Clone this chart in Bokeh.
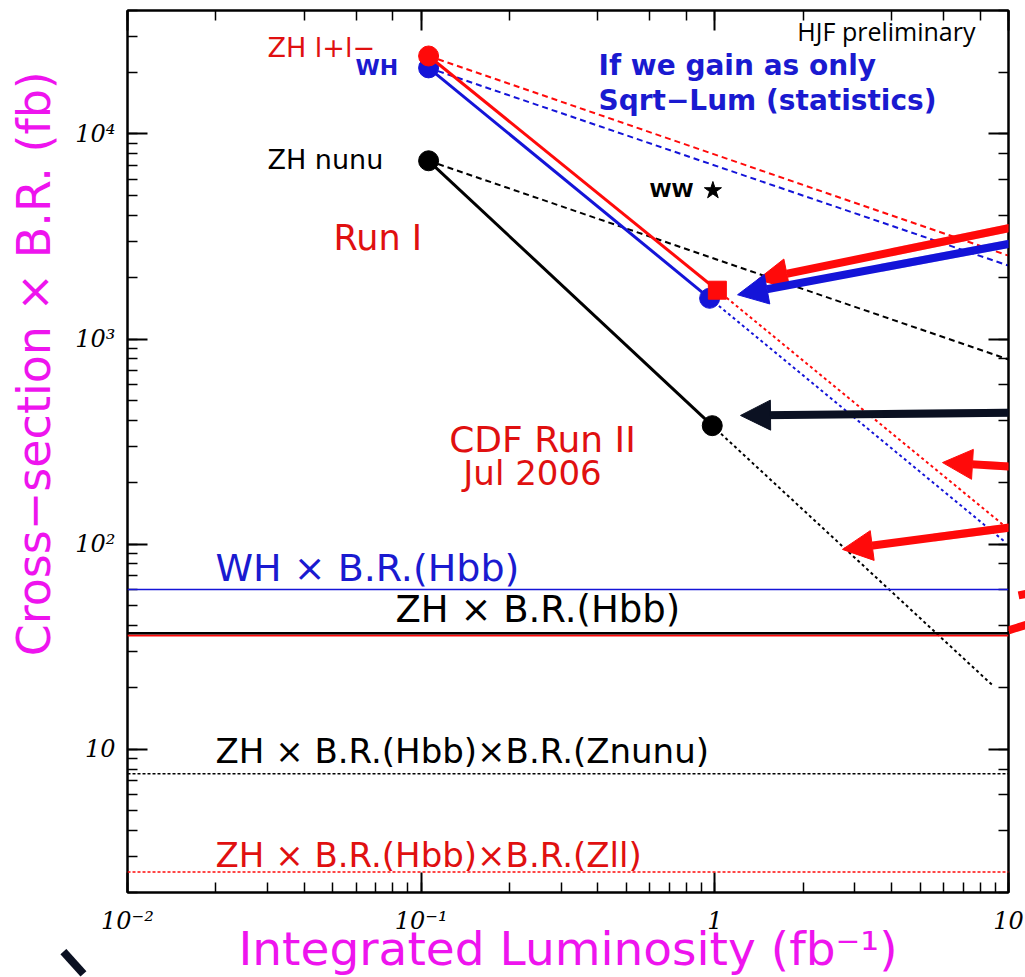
import math
from bokeh.plotting import figure
from bokeh.models import (LogAxis, LogTicker, Span, Label, Arrow, NormalHead, PolyAnnotation,
                          CustomJSTickFormatter, CustomLabelingPolicy, Range1d)
from bokeh.embed import file_html
from bokeh.resources import INLINE

# ---------------- data ----------------
x_limits = [0.01, 10]
y_limits = [2, 40000]

channels = ["ZH l+l-", "WH", "ZH nunu"]
runI_lumi = [0.106, 0.106, 0.106]
runI_xsec = [24000, 21000, 7400]
runII_lumi = [1.02, 0.96, 0.98]
runII_xsec = [1730, 1580, 378]
extrap_lumi = [9.54, 9.77, 8.82]
extrap_xsec = [125, 102, 20.5]
sqrt_lumi = [10, 10, 10]
sqrt_xsec = [2550, 2280, 795]

ww_lumi = [0.985]
ww_xsec = [5300]

wh_hbb = 60.0
zh_hbb = 36.8
zh_hbb_red = 35.8
zh_hbb_znunu = 7.58
zh_hbb_zll = 2.52

x_tick_exps = [-2, -1, 0, 1]
x_tick_text = ["10⁻²", "10⁻¹", "1", "10"]
y_tick_exps = [1, 2, 3, 4]
y_tick_text = ["10", "10²", "10³", "10⁴"]

# ---------------- styles ----------------
RED = "#ff0a0a"
TRED = "#e01010"
BLUE = "#1414d8"
TBLUE = "#1a1ad0"
BLACK = "#000000"
MAG = "#ee14ee"
NAVY = "#0b1122"
ch_color = [RED, BLUE, BLACK]
SANS = "DejaVu Sans"

p = figure(x_axis_type="log", y_axis_type="log",
           x_range=Range1d(*x_limits), y_range=Range1d(*y_limits),
           frame_width=881, frame_height=882,
           min_border_left=127, min_border_right=17,
           min_border_top=10, min_border_bottom=60,
           output_backend="svg", toolbar_location=None,
           background_fill_color="white", border_fill_color="white")
p.xgrid.visible = False
p.ygrid.visible = False
p.outline_line_color = "black"
p.outline_line_width = 2

bottom = p.below[0]
left = p.left[0]

code = """
const e = Math.round(Math.log10(tick)); const i = exps.indexOf(e);
return i >= 0 ? texts[i] : "";"""
bottom.formatter = CustomJSTickFormatter(args=dict(exps=x_tick_exps, texts=x_tick_text), code=code)
left.formatter = CustomJSTickFormatter(args=dict(exps=y_tick_exps, texts=y_tick_text), code=code)

top = LogAxis(ticker=LogTicker())
right = LogAxis(ticker=LogTicker())
p.add_layout(top, "above")
p.add_layout(right, "right")

for ax in [bottom, left, top, right]:
    ax.axis_line_width = 2
    ax.major_tick_in = 20
    ax.major_tick_out = 0
    ax.minor_tick_in = 10
    ax.minor_tick_out = 0
    ax.major_tick_line_width = 2
    ax.minor_tick_line_width = 1.5
    ax.major_label_text_font = "DejaVu Serif"
    ax.major_label_text_font_style = "italic"
    ax.major_label_text_font_size = "24px"
    ax.major_label_text_color = "black"

no_labels = CustomLabelingPolicy(code="return new Set()")
for ax in [top, right]:
    ax.major_label_policy = no_labels
    ax.major_label_standoff = 0
    ax.major_label_text_font_size = "2px"

bottom.major_label_standoff = 14
left.major_label_standoff = 12

bottom.axis_label = "Integrated Luminosity (fb⁻¹)"
bottom.axis_label_text_font = SANS
bottom.axis_label_text_font_style = "normal"
bottom.axis_label_text_font_size = "47px"
bottom.axis_label_text_color = MAG
bottom.axis_label_standoff = -17

# y title carried by an extra, otherwise invisible left axis; leading no-break
# spaces lift the visible words above the frame centre, as in the original
title_axis = LogAxis(ticker=LogTicker(),
                     axis_label="\u00a0" * 12 + "Cross−section × B.R. (fb)",
                     axis_line_color=None, major_tick_line_color=None,
                     minor_tick_line_color=None, major_label_policy=no_labels,
                     major_label_text_font_size="2px", major_label_standoff=0,
                     axis_label_standoff=0,
                     axis_label_text_font=SANS, axis_label_text_font_style="normal",
                     axis_label_text_font_size="46px", axis_label_text_color=MAG)
p.add_layout(title_axis, "left")

# ---------------- horizontal reference lines ----------------
p.add_layout(Span(location=wh_hbb, dimension="width", line_color=BLUE, line_width=1.5))
p.add_layout(Span(location=zh_hbb_red, dimension="width", line_color=RED, line_width=2))
p.add_layout(Span(location=zh_hbb, dimension="width", line_color=BLACK, line_width=2.5))
p.add_layout(Span(location=zh_hbb_znunu, dimension="width", line_color=BLACK, line_width=1.5, line_dash="3 2"))
p.add_layout(Span(location=zh_hbb_zll, dimension="width", line_color=RED, line_width=1.5, line_dash="3 2"))

# ---------------- channel curves ----------------
for i in [2, 1, 0]:
    c = ch_color[i]
    p.line([runI_lumi[i], sqrt_lumi[i]], [runI_xsec[i], sqrt_xsec[i]],
           line_color=c, line_width=2, line_dash="6 4")
    p.line([runII_lumi[i], extrap_lumi[i]], [runII_xsec[i], extrap_xsec[i]],
           line_color=c, line_width=2, line_dash="3 3")
    p.line([runI_lumi[i], runII_lumi[i]], [runI_xsec[i], runII_xsec[i]],
           line_color=c, line_width=3)
    p.scatter([runI_lumi[i]], [runI_xsec[i]], marker="circle", size=20,
              fill_color=c, line_color=c)
    p.scatter([runII_lumi[i]], [runII_xsec[i]], marker="square" if i == 0 else "circle",
              size=20 if i else 18, fill_color=c, line_color=c)

p.scatter(ww_lumi, ww_xsec, marker="star", size=18, fill_color="black", line_color="black")

# ---------------- text annotations ----------------
def txt(x, y, s, color, size, align="left", style="normal", font=SANS):
    p.add_layout(Label(x=x, y=y, text=s, text_color=color, text_font=font,
                       text_font_size=size, text_align=align, text_baseline="middle",
                       text_font_style=style))

txt(0.02997, 26530, "ZH l+l−", TRED, "27px")
txt(0.0598, 21000, "WH", TBLUE, "22px", style="bold")
txt(0.02997, 7470, "ZH nunu", BLACK, "27px")
txt(0.4016, 21680, "If we gain as only", TBLUE, "28px", style="bold")
txt(0.4016, 14640, "Sqrt−Lum (statistics)", TBLUE, "28px", style="bold")
txt(7.72, 31740, "HJF preliminary", BLACK, "25px", align="right", font="Open Sans")
txt(0.599, 5338, "WW", BLACK, "20px", style="bold")
txt(0.0503, 3116, "Run I", TRED, "35px")
txt(0.2589, 323.4, "CDF Run II", TRED, "36px", align="center")
txt(0.2394, 223.4, "Jul 2006", TRED, "34px", align="center")
txt(0.01994, 76.1, "WH  × B.R.(Hbb)", TBLUE, "38px")
txt(0.08175, 48.07, "ZH  × B.R.(Hbb)", BLACK, "37px")
txt(0.01994, 9.78, "ZH  × B.R.(Hbb)×B.R.(Znunu)", BLACK, "34px")
txt(0.01994, 3.045, "ZH  × B.R.(Hbb)×B.R.(Zll)", TRED, "34px")

# ---------------- pointer arrows ----------------
# (x_start, y_start, x_end, y_end, colour, fraction of shaft also drawn as a stroke)
arrows = [
    (11.42, 3606, 1.397, 1946, RED, 0.5),
    (11.42, 3013, 1.195, 1644, BLUE, 0.5),
    (11.42, 437.6, 1.223, 424, NAVY, 0.5),
    (11.42, 236.3, 5.96, 249.8, RED, 0.5),
    (11.42, 123.3, 2.72, 94.2, RED, 0.5),
    (15.03, 61.5, 10.82, 56.2, RED, 0.2),
    (15.03, 45.4, 10.0, 37.97, RED, 0.2),
    (0.003694, 2.25, 0.00708, 0.802, NAVY, 0.74),
]
for xs, ys, xe, ye, c, f in arrows:
    p.add_layout(Arrow(x_start=xs, y_start=ys, x_end=xe, y_end=ye,
                       line_color=c, line_width=8,
                       end=NormalHead(size=30, fill_color=c, line_color=c, line_width=1)))
    xm = 10 ** (math.log10(xs) + f * (math.log10(xe) - math.log10(xs)))
    ym = 10 ** (math.log10(ys) + f * (math.log10(ye) - math.log10(ys)))
    p.add_layout(PolyAnnotation(xs=[xs, xm], ys=[ys, ym], line_color=c, line_width=8,
                                fill_color=None, fill_alpha=0))

open("out.html", "w").write(file_html(p, INLINE))
